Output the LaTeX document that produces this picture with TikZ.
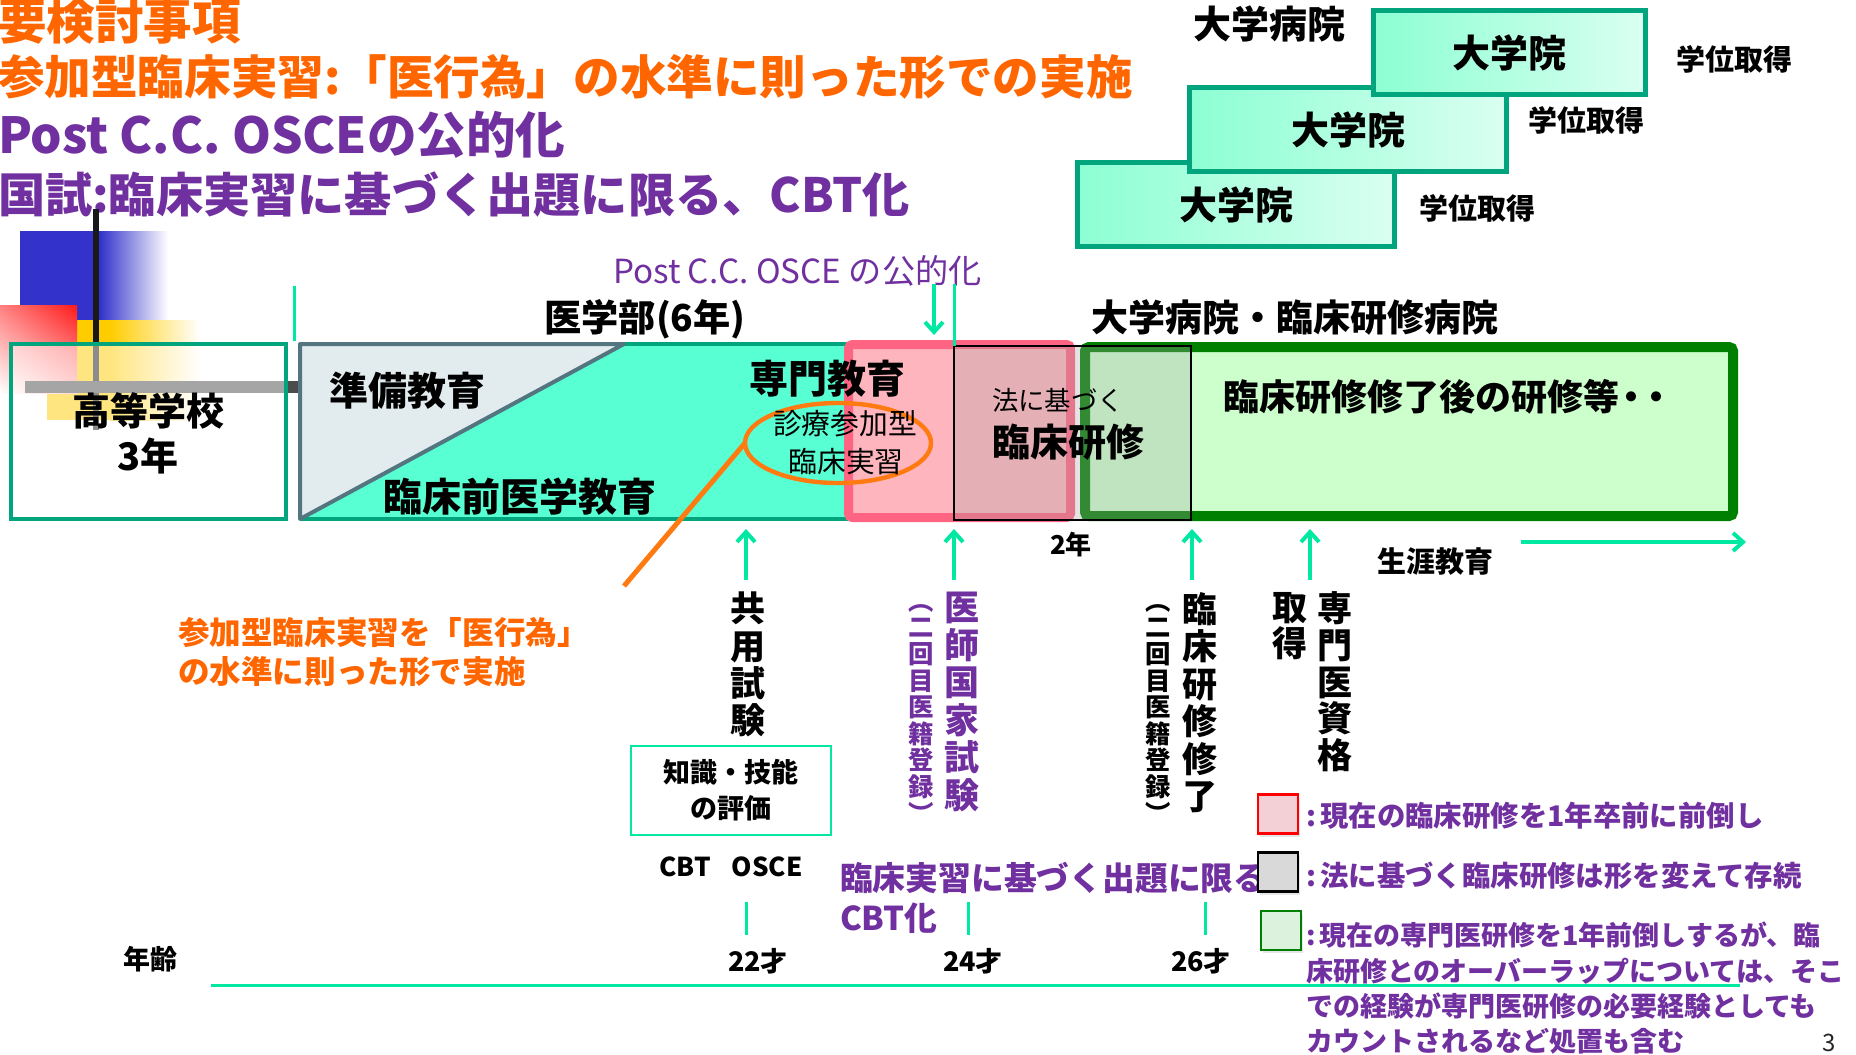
\documentclass[tikz,border=0pt]{standalone}
\usepackage{fontspec}
\setmainfont{Noto Sans CJK JP}
\usetikzlibrary{arrows.meta,shapes.geometric,shadows,shadings}

\definecolor{titleorange}{HTML}{FF6600}
\definecolor{purp}{HTML}{7030A0}
\definecolor{darkteal}{HTML}{00A57D}
\definecolor{mint}{HTML}{00E8A2}
\definecolor{medfill}{HTML}{57FFD3}
\definecolor{prepfill}{HTML}{E2EBEE}
\definecolor{prepline}{HTML}{52757F}
\definecolor{pinkfill}{HTML}{FFB5BE}
\definecolor{pinkline}{HTML}{FF6482}
\definecolor{lgreen}{HTML}{CCFFCC}
\definecolor{dgreen}{HTML}{008000}
\definecolor{ovalorange}{HTML}{FF7A10}
\definecolor{gradL}{HTML}{8CFFD3}
\definecolor{gradR}{HTML}{DAFFF1}
\definecolor{logoblue}{HTML}{3333CC}
\definecolor{logoyellow}{HTML}{FFCC00}
\definecolor{logored}{HTML}{FF1A1A}
\definecolor{legpink}{HTML}{F2D0D5}
\definecolor{leggrey}{HTML}{D9D9D9}
\definecolor{leggreen}{HTML}{DDF2DD}

\begin{document}
\begin{tikzpicture}[x=0.5pt,y=-0.5pt,
  every node/.style={inner sep=0pt,outer sep=0pt},
  fs/.style={font=\fontsize{#1}{#1}\selectfont},
  bfs/.style={font=\bfseries\fontsize{#1}{#1}\selectfont},
  vstack/.style 2 args={anchor=north,align=center,font=\bfseries\fontsize{#1}{#2}\selectfont},
  titleline/.style={anchor=base west,bfs=#1},
  gradbox/.style={draw=darkteal,line width=2.5pt,left color=gradL,right color=gradR,minimum width=#1,minimum height=42pt},
  arr/.style={draw=mint,line width=2pt,-{Straight Barb[length=5pt,width=9pt]}},
  tick/.style={draw=mint,line width=1.5pt},
  legendbox/.style={line width=1.3pt,minimum width=20pt,minimum height=19.5pt,
    drop shadow={opacity=0.2,shadow xshift=1pt,shadow yshift=-1.5pt}},
]
\useasboundingbox (0,0) rectangle (1856,1054);

% ---- headline items ----
\node[titleline=24.3,text=titleorange] (t1) at (-2,40) {要検討事項};
\node[titleline=23.3,text=titleorange] (t2) at (-2,95) {参加型臨床実習:「医行為」の水準に則った形での実施};
\node[titleline=24.8,text=purp] (t3) at (-2,153) {Post C.C. OSCEの公的化};
\node[titleline=23.6,text=purp] (t4) at (-2,212) {国試:臨床実習に基づく出題に限る、CBT化};

% ---- template ornament ----
\fill[logoblue] (20,231) rectangle (100,320);
\shade[left color=logoblue,right color=white] (100,231) rectangle (168,320);
\fill[logoyellow] (47,320) rectangle (110,420);
\shade[left color=logoyellow,right color=white] (110,320) rectangle (200,420);
\shade[upper right=logored,upper left=red!50!white,lower left=white,lower right=red!30!white] (0,305) rectangle (77,393);
\draw[line width=3pt,black!90] (96,209) -- (96,430);
\draw[line width=6pt,black!70] (25,387) -- (298,387);

% ---- high school ----
\node[draw=darkteal,line width=2pt,fill=white,fill opacity=0.5,draw opacity=1,
  minimum width=137.5pt,minimum height=87.5pt] (hs) at (148.5,431.5) {};
\node[bfs=19] (hsname) at (148,411) {高等学校};
\node[bfs=19] (hsyears) at (148,456) {3年};

\draw[tick] (294,286) -- (294,341);

% ---- medical school ----
\node[fill=medfill,minimum width=274pt,minimum height=87.5pt] (med) at (574,431.5) {};
\coordinate (prepTop) at (624,344);
\fill[prepfill] (med.north west) -- (prepTop) -- (med.south west) -- cycle;
\draw[darkteal,line width=2pt] (med.south west) -- (med.south east);
\draw[darkteal,line width=2pt] (prepTop) -- (med.north east);
\draw[prepline,line width=2pt,line join=round] (prepTop) -- (med.north west) -- (med.south west) -- cycle;
\node[bfs=18.6,anchor=base] (medtitle) at (645,331) {医学部(6年)};
\node[bfs=19.5] (prep) at (407,391) {準備教育};
\node[bfs=19.5] (preclin) at (520,497) {臨床前医学教育};

% ---- clerkship moved before graduation ----
\node[draw=pinkline,fill=pinkfill,line width=4.5pt,rounded corners=2pt,
  minimum width=111pt,minimum height=86.5pt] (pink) at (959.5,431) {};

% ---- hospitals ----
\node[draw=dgreen,fill=lgreen,line width=5pt,rounded corners=2pt,
  minimum width=324pt,minimum height=84.5pt] (hosp) at (1409,431.5) {};
\node[bfs=18.5] (hosptitle) at (1295,317) {大学病院・臨床研修病院};
\node[bfs=18,anchor=west] (after) at (1223,397) {臨床研修修了後の研修等\kern-0.15em・\kern-0.3em・};

% ---- residency by law ----
\node[draw=black,line width=1pt,fill=black!35,fill opacity=0.3,draw opacity=1,
  minimum width=118.5pt,minimum height=87pt] (law) at (1072.5,433) {};
\node[fs=13.2,anchor=west] (lawa) at (992,400) {法に基づく};
\node[bfs=19,anchor=west] (lawb) at (992,442) {臨床研修};

\node[bfs=19.5] (senmonedu) at (827,379) {専門教育};
\node[ellipse,draw=ovalorange,line width=2.2pt,minimum width=93pt,minimum height=40pt] (oval) at (838,443) {};
\node[fs=14.4] (ovala) at (845,424) {診療参加型};
\node[fs=14.4] (ovalb) at (846,462) {臨床実習};
\coordinate (olend) at (624,586);
\draw[ovalorange,line width=2.5pt] (oval.west) -- (olend);

% ---- OSCE ----
\node[fs=16.6,anchor=base west,text=purp] (postcc) at (613,283) {Post C.C. OSCE の公的化};
\coordinate (pdt) at (934,284);
\coordinate (pdh) at (934,335);
\draw[arr] (pdt) -- (pdh);
\coordinate (lawtickA) at (954,284);
\draw[tick] (lawtickA) -- (law.north west);

\node[bfs=13] (twoyr) at (1071,545) {2年};
\node[bfs=14.5] (lifelong) at (1435,562) {生涯教育};
\coordinate (llA) at (1521,542);
\coordinate (llB) at (1746,542);
\draw[arr] (llA) -- (llB);

% ---- graduate school ----
\node[bfs=19] (hospuni) at (1269,24) {大学病院};
\node[gradbox=158.5pt] (gsC) at (1236,204.5) {};
\node[gradbox=158.5pt] (gsB) at (1348,129.5) {};
\node[gradbox=136pt] (gsA) at (1509.5,52.5) {};
\node[bfs=19] at (gsA) {大学院};
\node[bfs=19] at (gsB) {大学院};
\node[bfs=19] at (gsC) {大学院};
\node[bfs=14.5] (degA) at (1734,59) {学位取得};
\node[bfs=14.5] (degB) at (1586,120) {学位取得};
\node[bfs=14.5] (degC) at (1477,208) {学位取得};

% ---- milestones ----
\node[vstack={17.5}{18.7}] (kyoyo) at (748,592) {共\\用\\試\\験};
\node[vstack={17.5}{18.75},text=purp] (kokushi) at (962,592) {医\\師\\国\\家\\試\\験};
\node[vstack={12.7}{13.3},text=purp] (regA) at (921,592) {\vphantom{二}︵\\二\\回\\目\\医\\籍\\登\\録\\︶};
\node[vstack={17.5}{18.75}] (shuryo) at (1200,592) {臨\\床\\研\\修\\修\\了};
\node[vstack={12.7}{13.3}] (regB) at (1158,592) {\vphantom{二}︵\\二\\回\\目\\医\\籍\\登\\録\\︶};
\node[vstack={17.5}{18.3}] (senmon) at (1335,592) {専\\門\\医\\資\\格};
\node[vstack={17.5}{18.3}] (shutoku) at (1290,592) {取\\得};

\coordinate (m1t) at (746,580);  \coordinate (m1h) at (746,529);
\coordinate (m2t) at (954,580);  \coordinate (m2h) at (954,529);
\coordinate (m3t) at (1192,580); \coordinate (m3h) at (1192,529);
\coordinate (m4t) at (1310,580); \coordinate (m4h) at (1310,529);
\draw[arr] (m1t) -- (m1h);
\draw[arr] (m2t) -- (m2h);
\draw[arr] (m3t) -- (m3h);
\draw[arr] (m4t) -- (m4h);

\node[draw=mint,line width=1.2pt,minimum width=100pt,minimum height=44.5pt] (eval) at (731,790.5) {};
\node[align=center,font=\bfseries\fontsize{13.5}{18}\selectfont] at (eval) {知識・技能\\の評価};
\node[bfs=13,anchor=base] (cbtosce) at (731,876) {CBT\hspace{0.8em}OSCE};

\node[bfs=16.4,anchor=west,text=purp] (kokushiA) at (840,878) {臨床実習に基づく出題に限る};
\node[bfs=16.4,anchor=base west,text=purp] (kokushiB) at (840,930) {CBT化};

\node[bfs=15.8,anchor=west,text=titleorange] (ccA) at (178,633) {参加型臨床実習を「医行為」};
\node[bfs=15.8,anchor=west,text=titleorange] (ccB) at (178,672) {の水準に則った形で実施};

% ---- age axis ----
\draw[tick] (746,902) -- (746,935);
\draw[tick] (968,902) -- (968,935);
\draw[tick] (1205,902) -- (1205,935);
\node[bfs=13.5] (agelabel) at (150,959) {年齢};
\node[bfs=13.5] (age22) at (758,961) {22才};
\node[bfs=13.5] (age24) at (973,961) {24才};
\node[bfs=13.5] (age26) at (1201,961) {26才};
\coordinate (axA) at (211,985);
\coordinate (axB) at (1740,985);
\draw[tick] (axA) -- (axB);

% ---- legend ----
\node[legendbox,draw=red,fill=legpink] (lg1) at (1278,814) {};
\node[legendbox,draw=black,fill=leggrey] (lg2) at (1278,872) {};
\node[legendbox,draw=dgreen,fill=leggreen] (lg3) at (1281,930.5) {};
\node[bfs=14.2,anchor=west,text=purp] (lt1) at (1306,816) {:\hspace{0.15em}現在の臨床研修を1年卒前に前倒し};
\node[bfs=14.2,anchor=west,text=purp] (lt2) at (1306,876) {:\hspace{0.15em}法に基づく臨床研修は形を変えて存続};
\node[anchor=north west,align=left,text=purp,font=\bfseries\fontsize{13.5}{17.7}\selectfont] (lt3) at (1306,922)
  {:\hspace{0.15em}現在の専門医研修を1年前倒しするが、臨\\床研修とのオーバーラップについては、そこ\\での経験が専門医研修の必要経験としても\\カウントされるなど処置も含む};

\node[fs=12,text=black!85,anchor=south] (pageno) at (1829,1052) {3};
\end{tikzpicture}
\end{document}
